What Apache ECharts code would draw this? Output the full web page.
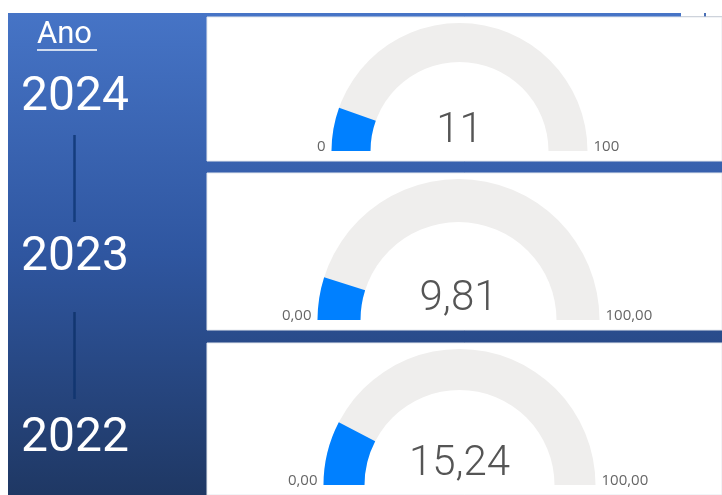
<!DOCTYPE html>
<html>
<head>
<meta charset="utf-8">
<script src="https://cdn.jsdelivr.net/npm/echarts@6/dist/echarts.min.js"></script>
<style>
  html, body { margin: 0; padding: 0; background: #fff; }
  #chart { width: 722px; height: 495px; }
</style>
</head>
<body>
<div id="chart"></div>
<script>
// data
const years = ['2024', '2023', '2022'];
const values = [11, 9.81, 15.24];
const gaugeMin = [0, 0, 0];
const gaugeMax = [100, 100, 100];
const decimals = [0, 2, 2];

// layout
const cards = [
    { y: 17, h: 144, cx: 459.5, cy: 151, r: 128, w: 39, off: -20 },
    { y: 173, h: 157, cx: 458.5, cy: 320, r: 141, w: 43, off: -21 },
    { y: 343, h: 152, cx: 459.5, cy: 485, r: 136, w: 41, off: -21 },
];
const yearMiddles = [98, 258, 439];

function fmt(v, d) {
    return v.toFixed(d).replace('.', ',');
}

const chart = echarts.init(document.getElementById('chart'), null, { renderer: 'canvas' });

const graphic = [
    {
        type: 'rect', z: -10, silent: true,
        shape: { x: 8, y: 13, width: 714, height: 482 },
        style: {
            fill: new echarts.graphic.LinearGradient(0, 0, 0, 1, [
                { offset: 0, color: '#4674C6' },
                { offset: 0.5, color: '#2F56A0' },
                { offset: 1, color: '#1F3864' },
            ]),
        },
    },
    { type: 'rect', z: -9, silent: true, shape: { x: 681, y: 12, width: 41, height: 5 }, style: { fill: '#fff' } },
    { type: 'line', z: -8, silent: true, shape: { x1: 681, y1: 16.5, x2: 722, y2: 16.5 }, style: { stroke: '#B8BEC8', lineWidth: 1 } },
    { type: 'rect', z: -8, silent: true, shape: { x: 704, y: 13, width: 2, height: 4 }, style: { fill: '#4A6FB5' } },
    {
        type: 'text', silent: true,
        style: { x: 37, y: 35, text: 'Ano', fill: '#fff', font: '400 31px Roboto', textVerticalAlign: 'middle' },
    },
    { type: 'line', silent: true, shape: { x1: 37, y1: 50, x2: 97, y2: 50 }, style: { stroke: '#fff', lineWidth: 1.5 } },
    { type: 'line', silent: true, shape: { x1: 74.5, y1: 135, x2: 74.5, y2: 222 }, style: { stroke: '#143D7E', lineWidth: 2.5 } },
    { type: 'line', silent: true, shape: { x1: 74.5, y1: 312, x2: 74.5, y2: 399 }, style: { stroke: '#123670', lineWidth: 2.5 } },
];

years.forEach((yr, i) => {
    graphic.push({
        type: 'text', silent: true,
        style: { x: 75, y: yearMiddles[i], text: yr, fill: '#fff', font: '400 48px Roboto', textAlign: 'center', textVerticalAlign: 'middle' },
    });
});

const series = [];
cards.forEach((c, i) => {
    graphic.push({
        type: 'rect', z: -5, silent: true,
        shape: { x: 207, y: c.y, width: 515, height: c.h },
        style: { fill: '#fff', stroke: '#E4E8EE', lineWidth: 1 },
    });
    graphic.push({
        type: 'text', silent: true,
        style: { x: c.cx - c.r - 6, y: c.cy + 3, text: fmt(gaugeMin[i], decimals[i]), fill: '#666', font: '15px "Open Sans"', textAlign: 'right', textVerticalAlign: 'bottom' },
    });
    graphic.push({
        type: 'text', silent: true,
        style: { x: c.cx + c.r + 6, y: c.cy + 3, text: fmt(gaugeMax[i], decimals[i]), fill: '#666', font: '15px "Open Sans"', textAlign: 'left', textVerticalAlign: 'bottom' },
    });
    series.push({
        type: 'gauge',
        center: [c.cx, c.cy],
        radius: c.r,
        startAngle: 180,
        endAngle: 0,
        min: gaugeMin[i],
        max: gaugeMax[i],
        pointer: { show: false },
        anchor: { show: false },
        axisTick: { show: false },
        splitLine: { show: false },
        axisLabel: { show: false },
        title: { show: false },
        axisLine: { roundCap: false, lineStyle: { width: c.w, color: [[1, '#EFEEED']] } },
        progress: { show: true, width: c.w, roundCap: false, itemStyle: { color: '#0080FF' } },
        detail: {
            offsetCenter: [0, c.off],
            fontSize: 42,
            fontFamily: 'Roboto',
            fontWeight: 300,
            color: '#555555',
            formatter: v => fmt(v, decimals[i]),
        },
        data: [{ value: values[i] }],
    });
});

chart.setOption({
    animation: false,
    graphic: graphic,
    series: series,
});
</script>
</body>
</html>
